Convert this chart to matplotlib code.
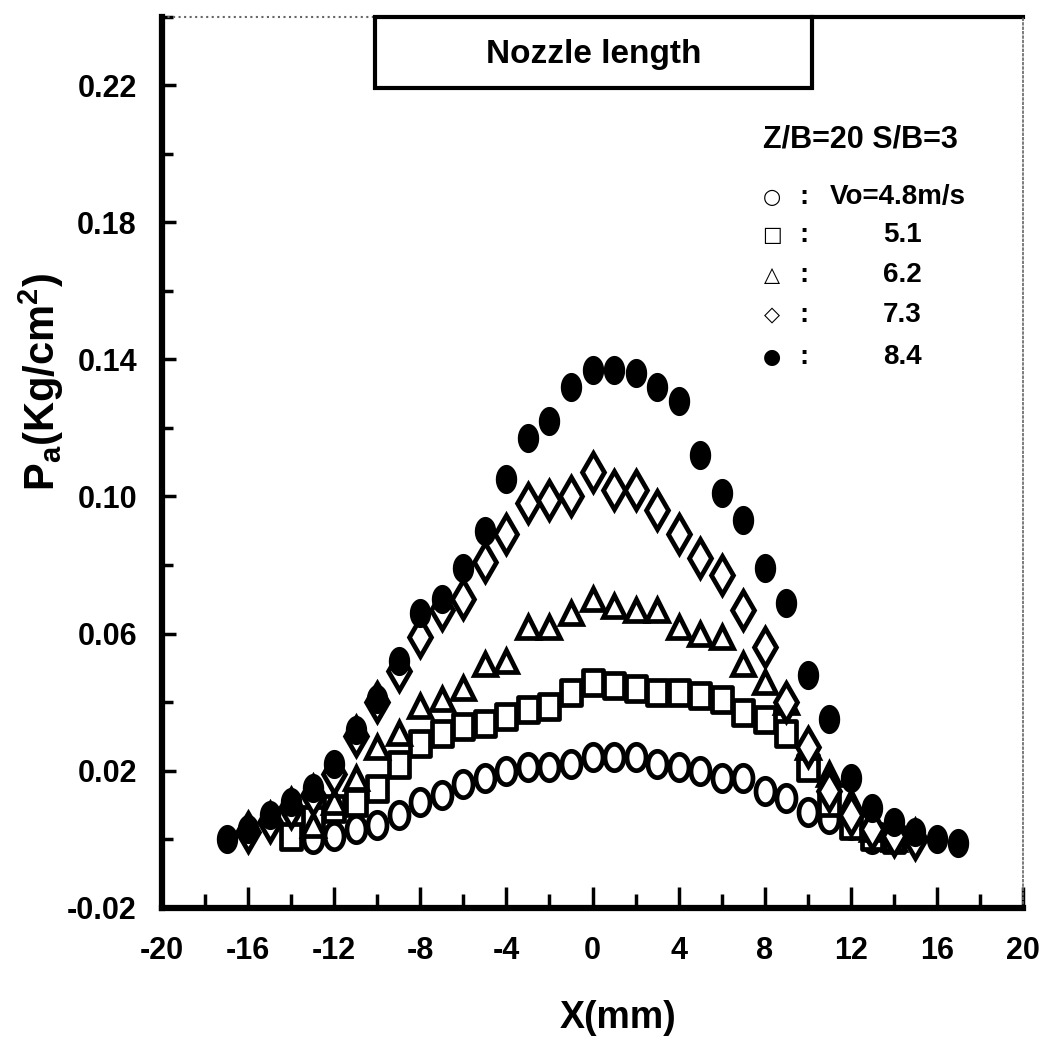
import numpy as np
import matplotlib
matplotlib.use("Agg")
import matplotlib.pyplot as plt
from matplotlib.patches import Rectangle
from matplotlib.path import Path
from matplotlib.ticker import FixedLocator

plt.rcParams['font.family'] = ['Liberation Sans', 'DejaVu Sans']
plt.rcParams['font.weight'] = 'bold'
plt.rcParams['axes.labelweight'] = 'bold'
plt.rcParams['mathtext.fontset'] = 'custom'
plt.rcParams['mathtext.bf'] = 'Liberation Sans:bold'
plt.rcParams['mathtext.rm'] = 'Liberation Sans:bold'
plt.rcParams['mathtext.default'] = 'bf'
plt.rcParams['axes.unicode_minus'] = False

# nozzle exit velocity Vo (m/s) -> measured Pa profile across X (mm)
x_48 = np.arange(-13, 14)
p_48 = [0.000, 0.001, 0.003, 0.004, 0.007, 0.011, 0.013, 0.016, 0.018, 0.020,
        0.021, 0.021, 0.022, 0.024, 0.024, 0.024, 0.022, 0.021, 0.020, 0.018,
        0.018, 0.014, 0.012, 0.008, 0.006, 0.004, 0.000]

x_51 = np.arange(-14, 15)
p_51 = [0.001, 0.006, 0.009, 0.011, 0.015, 0.022, 0.028, 0.031, 0.033, 0.034,
        0.036, 0.038, 0.039, 0.043, 0.046, 0.045, 0.044, 0.043, 0.043, 0.042,
        0.041, 0.037, 0.035, 0.031, 0.021, 0.011, 0.004, 0.001, 0.000]

x_62 = np.arange(-13, 15)
p_62 = [0.004, 0.011, 0.018, 0.027, 0.031, 0.039, 0.041, 0.044, 0.051, 0.052,
        0.062, 0.062, 0.066, 0.070, 0.068, 0.067, 0.067, 0.062, 0.060, 0.059,
        0.051, 0.046, 0.040, 0.027, 0.019, 0.011, 0.003, 0.000]

x_73 = np.arange(-16, 16)
p_73 = [0.002, 0.005, 0.009, 0.013, 0.019, 0.030, 0.040, 0.049, 0.059, 0.067,
        0.070, 0.081, 0.089, 0.098, 0.099, 0.100, 0.107, 0.102, 0.102, 0.096,
        0.089, 0.082, 0.077, 0.067, 0.056, 0.040, 0.027, 0.014, 0.007, 0.003,
        0.001, 0.000]

x_84 = np.arange(-17, 18)
p_84 = [0.000, 0.003, 0.007, 0.011, 0.015, 0.022, 0.032, 0.041, 0.052, 0.066,
        0.070, 0.079, 0.090, 0.105, 0.117, 0.122, 0.132, 0.137, 0.137, 0.136,
        0.132, 0.128, 0.112, 0.101, 0.093, 0.079, 0.069, 0.048, 0.035, 0.018,
        0.009, 0.005, 0.002, 0.000, -0.001]

legend_syms = ['○', '□', '△', '◇', '●']
legend_vals = ['Vo=4.8m/s', '5.1', '6.2', '7.3', '8.4']

x_ticks = np.arange(-20, 21, 4)
x_labels = ['-20', '-16', '-12', '-8', '-4', '0', '4', '8', '12', '16', '20']
y_ticks = np.arange(-0.02, 0.23, 0.04)
y_labels = ['-0.02', '0.02', '0.06', '0.10', '0.14', '0.18', '0.22']

# slightly tall marker shapes (the plotter drew them stretched vertically)
t = np.linspace(0, 2 * np.pi, 41)
oval = Path(np.column_stack([0.72 * np.cos(t), np.sin(t)]), closed=True)
tall_box = Path([(-0.4, -0.5), (0.4, -0.5), (0.4, 0.5), (-0.4, 0.5), (-0.4, -0.5)],
                closed=True)

fig = plt.figure(figsize=(10.45, 10.41), dpi=100)
ax = fig.add_axes([0.155, 0.128, 0.824, 0.856])

open_kw = dict(ls='none', mfc='white', mec='black', mew=3.4, zorder=3)
ax.plot(x_48, p_48, marker=oval, ms=19, **open_kw)
ax.plot(x_51, p_51, marker=tall_box, ms=18, **open_kw)
ax.plot(x_62, p_62, marker='^', ms=16, **open_kw)
ax.plot(x_73, p_73, marker='d', ms=19, **open_kw)
ax.plot(x_84, p_84, marker=oval, ms=20, ls='none', color='black', zorder=4)

ax.set_xlim(-20, 20)
ax.set_ylim(-0.02, 0.24)

ax.xaxis.set_major_locator(FixedLocator(x_ticks))
ax.xaxis.set_minor_locator(FixedLocator(np.arange(-18, 20, 4)))
ax.set_xticklabels(x_labels)
ax.yaxis.set_major_locator(FixedLocator(y_ticks))
ax.yaxis.set_minor_locator(FixedLocator(np.arange(0.0, 0.25, 0.04)))
ax.set_yticklabels(y_labels)

ax.tick_params(which='both', direction='in', width=2.5, color='black',
               top=False, right=False)
ax.tick_params(axis='x', which='major', length=15, pad=20, labelsize=22)
ax.tick_params(axis='x', which='minor', length=10)
ax.tick_params(axis='y', which='major', length=10, pad=18, labelsize=22)
ax.tick_params(axis='y', which='minor', length=8)

for side in ['left', 'bottom']:
    ax.spines[side].set_linewidth(4.5)
ax.spines['top'].set_visible(False)
ax.spines['right'].set_linewidth(1.2)
ax.spines['right'].set_linestyle(':')
ax.spines['right'].set_color('#666666')

# top frame: faint on the left of the title box, heavy on the right
ax.plot([0, 0.247], [1, 1], transform=ax.transAxes, color='#666666', lw=1.5,
        ls=':', clip_on=False)
ax.plot([0.755, 1], [1, 1], transform=ax.transAxes, color='black', lw=3,
        clip_on=False)

ax.set_xlabel('X(mm)', fontsize=27)
ax.xaxis.set_label_coords(0.53, -0.103)
ax.set_ylabel(r'P$_{a}$(Kg/cm$^{2}$)', fontsize=30)
ax.yaxis.set_label_coords(-0.112, 0.59)

ax.add_patch(Rectangle((0.247, 0.92), 0.508, 0.08, transform=ax.transAxes,
                       facecolor='white', edgecolor='black', lw=3,
                       clip_on=False, zorder=5))
ax.text(0.501, 0.958, 'Nozzle length', transform=ax.transAxes, fontsize=24,
        ha='center', va='center', zorder=6)

ax.text(0.698, 0.862, 'Z/B=20 S/B=3', transform=ax.transAxes, fontsize=22,
        ha='left', va='center')
row_y = [0.798, 0.755, 0.710, 0.665, 0.618]
for i, (sym, val) in enumerate(zip(legend_syms, legend_vals)):
    ax.text(0.708, row_y[i], sym, transform=ax.transAxes, fontsize=15,
            ha='center', va='center', family='DejaVu Sans', weight='bold')
    ax.text(0.746, row_y[i], ':', transform=ax.transAxes, fontsize=20,
            ha='center', va='center')
    xv = 0.776 if i == 0 else 0.837
    ax.text(xv, row_y[i], val, transform=ax.transAxes, fontsize=20,
            ha='left', va='center')

fig.savefig('out.png', dpi=100)
